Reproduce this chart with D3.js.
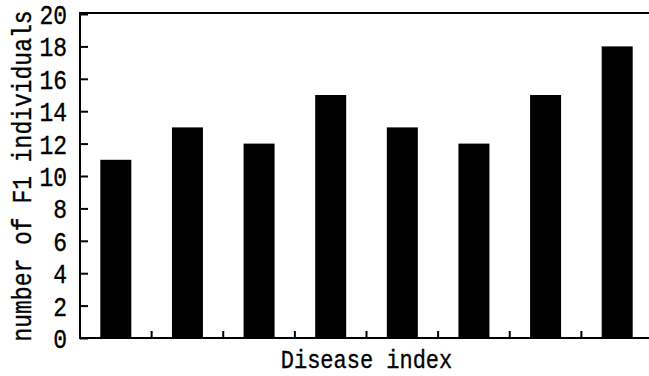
<!DOCTYPE html>
<html>
<head>
<meta charset="utf-8">
<script src="https://cdn.jsdelivr.net/npm/d3@7"></script>
<style>
  body { margin: 0; background: #fff; }
  text { font-family: "Liberation Mono", "DejaVu Sans Mono", monospace; fill: #000; stroke: #000; stroke-width: 0.3px; }
</style>
</head>
<body>
<div id="content"></div>
<script>
// values
let groups = ["1", "2", "3", "4", "5", "6", "7", "8"];
let counts = [11, 13, 12, 15, 13, 12, 15, 18];
let yTicks = [0, 2, 4, 6, 8, 10, 12, 14, 16, 18, 20];

let width = 649,
    height = 376;

let plotLeft = 80, plotRight = 653, plotTop = 14, plotBottom = 338;
let stretch = 1.2; // the original font is taller than Liberation Mono

let svg = d3.select("#content")
    .append("svg")
    .attr("width", width)
    .attr("height", height);

let x = d3.scaleBand().domain(groups).range([plotLeft, plotRight]).paddingInner(0).paddingOuter(0);
let y = d3.scaleLinear().domain([0, 20]).range([plotBottom, plotTop]);

let barW = 31;

// bars
svg.selectAll("rect.bar")
    .data(counts)
    .enter()
    .append("rect")
    .attr("class", "bar")
    .attr("x", (d, i) => x(groups[i]) + x.bandwidth() / 2 - barW / 2)
    .attr("y", d => y(d))
    .attr("width", barW)
    .attr("height", d => y(0) - y(d))
    .attr("fill", "#000");

// y axis (ticks pointing inward)
let yAxis = svg.append("g")
    .attr("transform", "translate(" + plotLeft + ",0)")
    .call(d3.axisRight(y).tickValues(yTicks).tickSize(8).tickFormat(""));
yAxis.select(".domain").remove();
yAxis.selectAll("line").attr("stroke", "#000").attr("stroke-width", 2);

svg.selectAll("text.ylab")
    .data(yTicks)
    .enter()
    .append("text")
    .attr("class", "ylab")
    .attr("transform", d => "translate(67," + y(d) + ") scale(1," + stretch + ")")
    .attr("dy", "0.36em")
    .attr("text-anchor", "end")
    .style("font-size", "23px")
    .text(d => d);

// x axis ticks between bars, pointing up
let bounds = groups.slice(1).map(g => x(g));
svg.selectAll("line.xtick")
    .data(bounds)
    .enter()
    .append("line")
    .attr("class", "xtick")
    .attr("x1", d => d).attr("x2", d => d)
    .attr("y1", plotBottom).attr("y2", plotBottom - 7)
    .attr("stroke", "#000")
    .attr("stroke-width", 2);

// frame lines
svg.append("line")
    .attr("x1", plotLeft).attr("x2", width)
    .attr("y1", plotBottom).attr("y2", plotBottom)
    .attr("stroke", "#000").attr("stroke-width", 2);
svg.append("line")
    .attr("x1", plotLeft).attr("x2", width)
    .attr("y1", plotTop - 1).attr("y2", plotTop - 1)
    .attr("stroke", "#000").attr("stroke-width", 2);
svg.append("line")
    .attr("x1", plotLeft).attr("x2", plotLeft)
    .attr("y1", plotTop - 2).attr("y2", plotBottom + 1)
    .attr("stroke", "#000").attr("stroke-width", 2);

// axis titles
svg.append("text")
    .attr("transform", "translate(" + (plotLeft + plotRight) / 2 + ",368) scale(1," + stretch + ")")
    .attr("text-anchor", "middle")
    .style("font-size", "22px")
    .text("Disease index");

svg.append("text")
    .attr("transform", "translate(31," + (plotTop + plotBottom) / 2 + ") rotate(-90) scale(1," + stretch + ")")
    .attr("text-anchor", "middle")
    .style("font-size", "23px")
    .text("number of F1 individuals");
</script>
</body>
</html>
